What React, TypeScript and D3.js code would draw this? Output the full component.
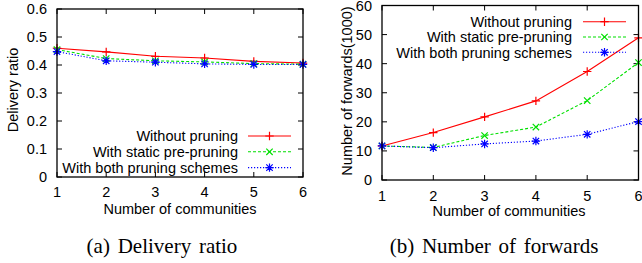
import React from "react";
import * as d3 from "d3";

const communities = [1, 2, 3, 4, 5, 6];
const seriesNames = ["Without pruning", "With static pre-pruning", "With both pruning schemes"];

const deliveryWithout = [0.460, 0.447, 0.431, 0.425, 0.413, 0.407];
const deliveryStatic = [0.455, 0.423, 0.415, 0.411, 0.405, 0.403];
const deliveryBoth = [0.448, 0.415, 0.410, 0.404, 0.402, 0.402];

const forwardsWithout = [11.7, 16.3, 21.7, 27.2, 37.3, 48.9];
const forwardsStatic = [11.7, 11.2, 15.3, 18.2, 27.3, 40.4];
const forwardsBoth = [11.7, 11.1, 12.4, 13.4, 15.7, 20.1];

const deliveryTicks = [0, 0.1, 0.2, 0.3, 0.4, 0.5, 0.6];
const forwardsTicks = [0, 10, 20, 30, 40, 50, 60];

const colors = ["#ff0000", "#00e000", "#0000ff"];
const dashes = [undefined, "3,2", "1.2,1.8"];
const markerTypes = ["plus", "cross", "star"];

const SANS = "'Liberation Sans', Arial, Helvetica, sans-serif";
const SERIF = "'Liberation Serif', 'Times New Roman', serif";

function Marker({ type, x, y, color }: { type: string; x: number; y: number; color: string }) {
  const p = 4.2;
  const c = 3.2;
  const parts: string[] = [];
  if (type === "plus" || type === "star") {
    parts.push(`M${x - p},${y}L${x + p},${y}M${x},${y - p}L${x},${y + p}`);
  }
  if (type === "cross" || type === "star") {
    parts.push(`M${x - c},${y - c}L${x + c},${y + c}M${x - c},${y + c}L${x + c},${y - c}`);
  }
  return <path d={parts.join("")} stroke={color} strokeWidth={1.2} fill="none" />;
}

type PanelProps = {
  x0: number; x1: number; yTop: number; yBottom: number;
  yMax: number; yTicks: number[]; yFormat: (v: number) => string;
  series: number[][]; yTitle: string; yTitleX: number; yTitleY: number;
  xLabelY: number; xTitleY: number; xTitleX: number;
  legendTextX: number; legendLineX0: number; legendLineX1: number; legendY0: number; legendDy: number;
  caption: string; captionX: number; captionY: number;
};

function Panel(props: PanelProps) {
  const {
    x0, x1, yTop, yBottom, yMax, yTicks, yFormat, series, yTitle, yTitleX, yTitleY,
    xLabelY, xTitleY, xTitleX, legendTextX, legendLineX0, legendLineX1, legendY0, legendDy,
    caption, captionX, captionY,
  } = props;
  const x = d3.scaleLinear().domain([1, 6]).range([x0, x1]);
  const y = d3.scaleLinear().domain([0, yMax]).range([yBottom, yTop]);
  const line = d3.line<number>().x((_, i) => x(communities[i])).y((d) => y(d));
  const tl = 5;
  return (
    <g>
      {yTicks.map((t) => (
        <g key={"y" + t}>
          <line x1={x0} x2={x0 + tl} y1={y(t)} y2={y(t)} stroke="#000" strokeWidth={1} />
          <line x1={x1} x2={x1 - tl} y1={y(t)} y2={y(t)} stroke="#000" strokeWidth={1} />
          <text x={x0 - 10} y={y(t)} dy="0.36em" textAnchor="end" fontFamily={SANS} fontSize={14.5} fill="#000">
            {yFormat(t)}
          </text>
        </g>
      ))}
      {communities.map((c) => (
        <g key={"x" + c}>
          <line x1={x(c)} x2={x(c)} y1={yBottom} y2={yBottom - tl} stroke="#000" strokeWidth={1} />
          <line x1={x(c)} x2={x(c)} y1={yTop} y2={yTop + tl} stroke="#000" strokeWidth={1} />
          <text x={x(c)} y={xLabelY} dy="0.36em" textAnchor="middle" fontFamily={SANS} fontSize={14.5} fill="#000">
            {c}
          </text>
        </g>
      ))}
      {series.map((s, si) => (
        <g key={"s" + si}>
          <path d={line(s) || ""} stroke={colors[si]} strokeWidth={1.1} fill="none" strokeDasharray={dashes[si]} />
          {s.map((v, i) => (
            <Marker key={i} type={markerTypes[si]} x={x(communities[i])} y={y(v)} color={colors[si]} />
          ))}
        </g>
      ))}
      {seriesNames.map((n, si) => {
        const ly = legendY0 + si * legendDy;
        return (
          <g key={"l" + si}>
            <text x={legendTextX} y={ly} dy="0.36em" textAnchor="end" fontFamily={SANS} fontSize={14.5} fill="#000">
              {n}
            </text>
            <line x1={legendLineX0} x2={legendLineX1} y1={ly} y2={ly} stroke={colors[si]} strokeWidth={1.1} strokeDasharray={dashes[si]} />
            <Marker type={markerTypes[si]} x={(legendLineX0 + legendLineX1) / 2} y={ly} color={colors[si]} />
          </g>
        );
      })}
      <rect x={x0} y={yTop} width={x1 - x0} height={yBottom - yTop} fill="none" stroke="#000" strokeWidth={1.3} />
      <text x={xTitleX} y={xTitleY} dy="0.36em" textAnchor="middle" fontFamily={SANS} fontSize={14.5} fill="#000">
        Number of communities
      </text>
      <text
        transform={`translate(${yTitleX},${yTitleY}) rotate(-90)`}
        dy="0.36em"
        textAnchor="middle"
        fontFamily={SANS}
        fontSize={14.5}
        fill="#000"
      >
        {yTitle}
      </text>
      <text x={captionX} y={captionY} dy="0.33em" textAnchor="middle" fontFamily={SERIF} fontSize={21} wordSpacing={2.5} fill="#000">
        {caption}
      </text>
    </g>
  );
}

export default function App() {
  return (
    <svg
      width={642}
      height={263}
      style={{ position: "absolute", left: 0, top: 0, background: "#fff" }}
    >
      <rect width={642} height={263} fill="#fff" />
      <Panel
        x0={57} x1={303} yTop={9} yBottom={177}
        yMax={0.6} yTicks={deliveryTicks} yFormat={(v) => (v === 0 ? "0" : d3.format(".1f")(v))}
        series={[deliveryWithout, deliveryStatic, deliveryBoth]}
        yTitle="Delivery ratio" yTitleX={12.5} yTitleY={90}
        xLabelY={191.5} xTitleY={208.5} xTitleX={180}
        legendTextX={238} legendLineX0={248} legendLineX1={291} legendY0={136} legendDy={15.8}
        caption="(a) Delivery ratio" captionX={162} captionY={246.5}
      />
      <Panel
        x0={382} x1={638.5} yTop={5.5} yBottom={180}
        yMax={60} yTicks={forwardsTicks} yFormat={(v) => String(v)}
        series={[forwardsWithout, forwardsStatic, forwardsBoth]}
        yTitle="Number of forwards(1000)" yTitleX={347} yTitleY={91}
        xLabelY={196} xTitleY={211} xTitleX={509}
        legendTextX={572} legendLineX0={583} legendLineX1={626} legendY0={21.7} legendDy={15.3}
        caption="(b) Number of forwards" captionX={494} captionY={246.5}
      />
    </svg>
  );
}
